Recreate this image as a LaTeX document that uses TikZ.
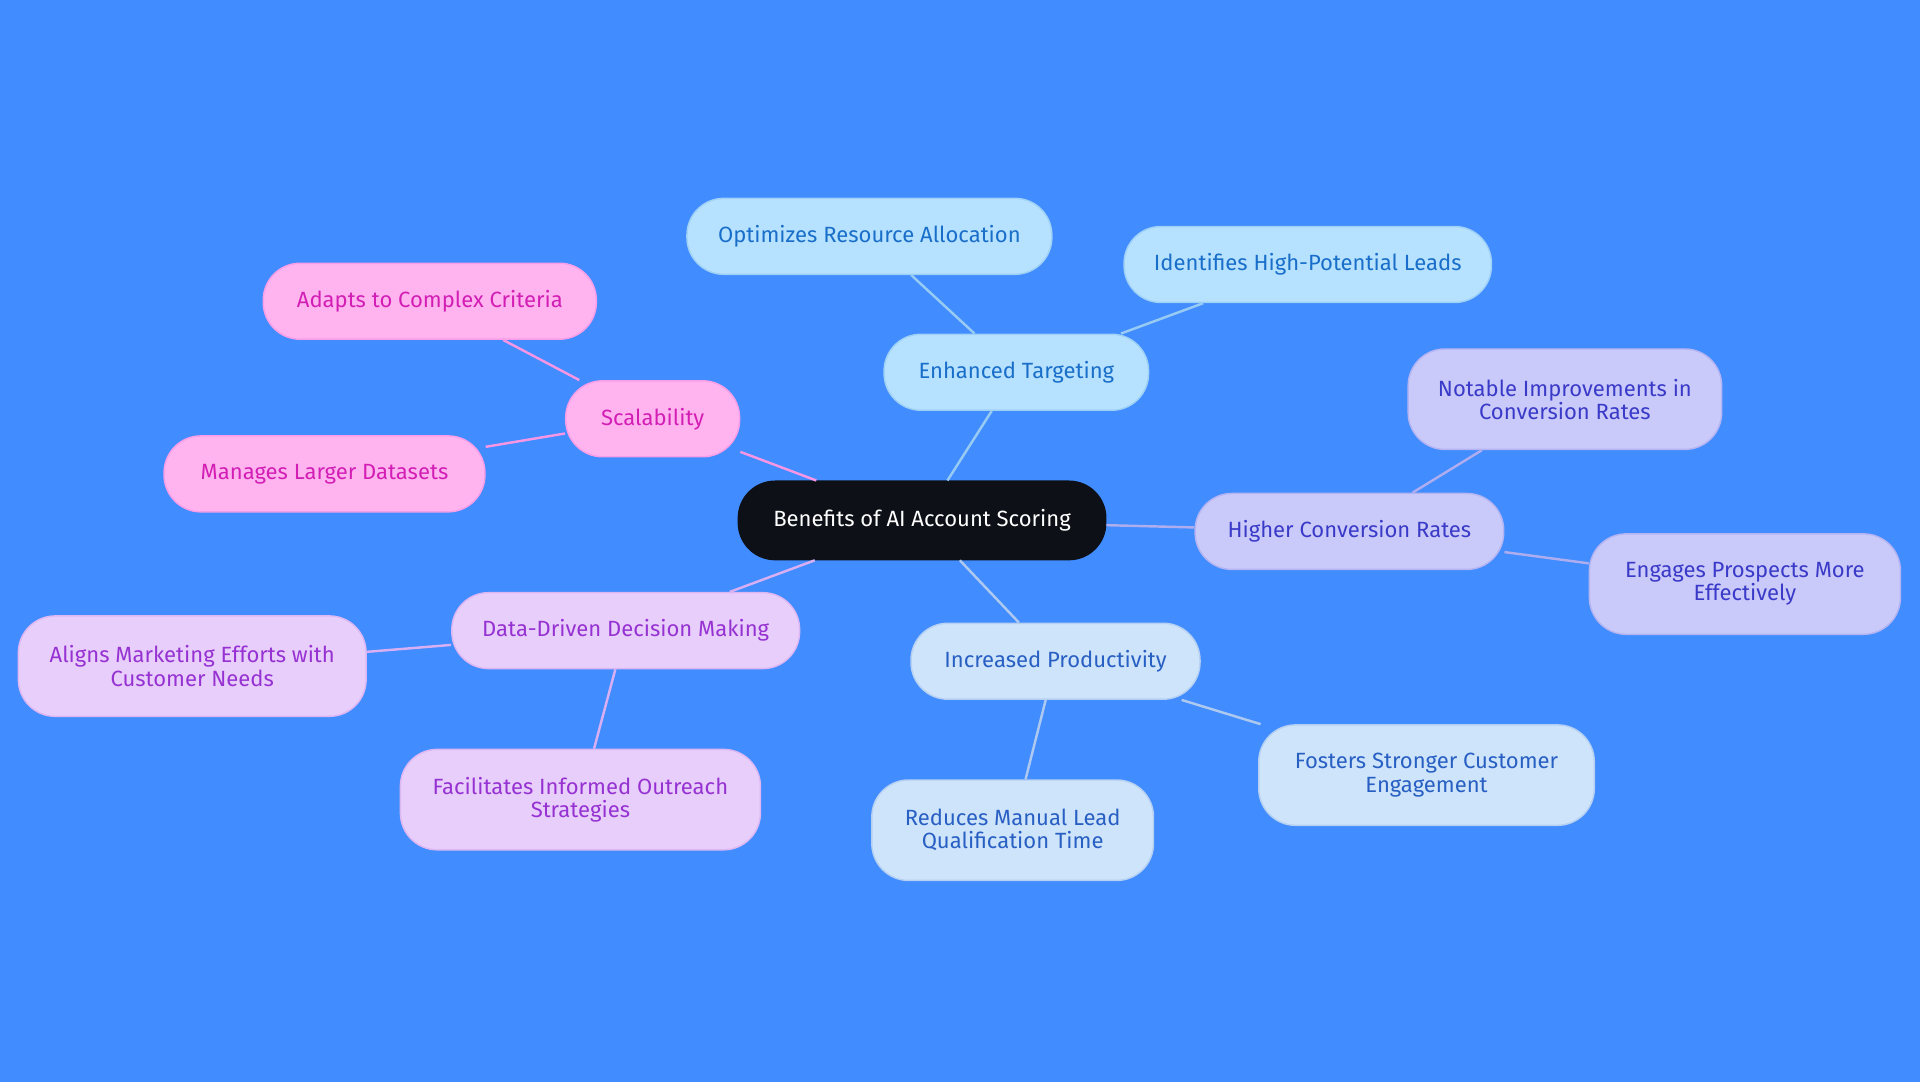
\documentclass[tikz,border=0pt]{standalone}
\usepackage{fontspec}
\setmainfont{Fira Sans}
\definecolor{bg}{RGB}{65,140,255}
\definecolor{rootc}{RGB}{13,17,23}
\definecolor{tgtF}{RGB}{183,226,255}\definecolor{tgtT}{RGB}{24,110,200}
\definecolor{convF}{RGB}{202,202,250}\definecolor{convT}{RGB}{58,58,200}
\definecolor{prodF}{RGB}{206,228,250}\definecolor{prodT}{RGB}{40,95,195}
\definecolor{dataF}{RGB}{232,206,250}\definecolor{dataT}{RGB}{150,50,210}
\definecolor{scalF}{RGB}{255,180,240}\definecolor{scalT}{RGB}{210,30,180}
\tikzset{
	box/.style={rounded corners=15pt, align=center, font=\fontsize{9}{9.5}\selectfont, inner sep=2pt, line width=0.6pt},
	tgt/.style={box, fill=tgtF, draw=tgtF!85!tgtT, text=tgtT},
	conv/.style={box, fill=convF, draw=convF!85!convT, text=convT},
	prod/.style={box, fill=prodF, draw=prodF!85!prodT, text=prodT},
	dat/.style={box, fill=dataF, draw=dataF!85!dataT, text=dataT},
	scal/.style={box, fill=scalF, draw=scalF!85!scalT, text=scalT},
	link/.style={line width=1pt},
}
\begin{document}
\begin{tikzpicture}[x=0.5pt,y=-0.5pt]

	\fill[bg] (0,0) rectangle (1568,884);
	\useasboundingbox (0,0) rectangle (1568,884);

	\node[box, fill=rootc, draw=rootc, text=white, minimum width=150pt, minimum height=32pt] (root) at (753,425) {Benefits of AI Account Scoring};

	\node[tgt, minimum width=108pt, minimum height=31pt] (target) at (830,304) {Enhanced Targeting};
	\node[tgt, minimum width=149pt, minimum height=31pt] (optim) at (710,193) {Optimizes Resource Allocation};
	\node[tgt, minimum width=150pt, minimum height=31pt] (ident) at (1068,216) {Identifies High-Potential Leads};

	\node[conv, minimum width=126pt, minimum height=31pt] (conv) at (1102,434) {Higher Conversion Rates};
	\node[conv, minimum width=128pt, minimum height=41pt] (notable) at (1278,326) {Notable Improvements in\\Conversion Rates};
	\node[conv, minimum width=127pt, minimum height=41pt] (engage) at (1425,477) {Engages Prospects More\\Effectively};

	\node[prod, minimum width=118pt, minimum height=31pt] (prod) at (862,540) {Increased Productivity};
	\node[prod, minimum width=115pt, minimum height=41pt] (reduce) at (827,678) {Reduces Manual Lead\\Qualification Time};
	\node[prod, minimum width=137pt, minimum height=41pt] (foster) at (1165,633) {Fosters Stronger Customer\\Engagement};

	\node[dat, minimum width=142pt, minimum height=31pt] (data) at (511,515) {Data-Driven Decision Making};
	\node[dat, minimum width=142pt, minimum height=41pt] (align) at (157,544) {Aligns Marketing Efforts with\\Customer Needs};
	\node[dat, minimum width=147pt, minimum height=41pt] (facil) at (474,653) {Facilitates Informed Outreach\\Strategies};

	\node[scal, minimum width=71pt, minimum height=31pt] (scal) at (533,342) {Scalability};
	\node[scal, minimum width=136pt, minimum height=31pt] (adapt) at (351,246) {Adapts to Complex Criteria};
	\node[scal, minimum width=131pt, minimum height=31pt] (manage) at (265,387) {Manages Larger Datasets};

	\begin{scope}[on background layer/.style={}]
	\end{scope}
	\begin{pgfinterruptboundingbox}
	\end{pgfinterruptboundingbox}

	\draw[link, tgtF!80!tgtT] (root) -- (target);
	\draw[link, tgtF!80!tgtT] (target) -- (optim);
	\draw[link, tgtF!80!tgtT] (target) -- (ident);
	\draw[link, convF!80!convT] (root) -- (conv);
	\draw[link, convF!80!convT] (conv) -- (notable);
	\draw[link, convF!80!convT] (conv) -- (engage);
	\draw[link, prodF!80!prodT] (root) -- (prod);
	\draw[link, prodF!80!prodT] (prod) -- (reduce);
	\draw[link, prodF!80!prodT] (prod) -- (foster);
	\draw[link, dataF!80!dataT] (root) -- (data);
	\draw[link, dataF!80!dataT] (data) -- (align);
	\draw[link, dataF!80!dataT] (data) -- (facil);
	\draw[link, scalF!80!scalT] (root) -- (scal);
	\draw[link, scalF!80!scalT] (scal) -- (adapt);
	\draw[link, scalF!80!scalT] (scal) -- (manage);

\end{tikzpicture}
\end{document}
